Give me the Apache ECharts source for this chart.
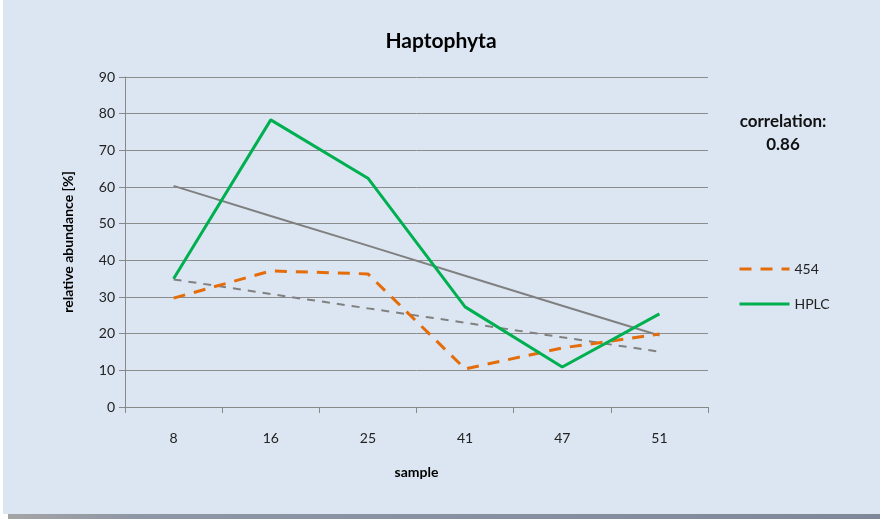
<!DOCTYPE html>
<html>
<head>
<meta charset="utf-8">
<script src="https://cdn.jsdelivr.net/npm/echarts@6/dist/echarts.min.js"></script>
<style>
  html, body { margin: 0; padding: 0; background: #ffffff; }
  #wrap { position: relative; width: 880px; height: 519px; background: #ffffff; }
  #shadow { position: absolute; left: 8px; top: 514px; width: 872px; height: 5px;
            background: linear-gradient(to right, #a4a4a4 0%, #8e97a6 15%, #7f8899 100%); }
  #chart { position: absolute; left: 3px; top: 0; width: 877px; height: 514px; background: #dce6f2; }
</style>
</head>
<body>
<div id="wrap"><div id="shadow"></div><div id="chart"></div></div>
<script>
// samples on the x axis
const samples = ['8', '16', '25', '41', '47', '51'];
// relative abundance [%]
const values454 = [29.7, 37.1, 36.3, 10.4, 16.1, 19.9];
const valuesHPLC = [35.0, 78.3, 62.4, 27.3, 10.9, 25.4];
// linear trend lines as drawn
const trend454 = [34.8, 30.8, 26.9, 23.0, 19.0, 15.1];
const trendHPLC = [60.3, 52.1, 44.0, 35.8, 27.6, 19.5];
const yTicks = [0, 10, 20, 30, 40, 50, 60, 70, 80, 90];

const FONT = 'Lato, "Open Sans", sans-serif';
const chart = echarts.init(document.getElementById('chart'));

chart.setOption({
  backgroundColor: '#dce6f2',
  textStyle: { fontFamily: FONT },
  animation: false,
  title: {
    text: 'Haptophyta',
    left: 433, top: 26, textAlign: 'center',
    textStyle: { fontSize: 21, fontWeight: 'bold', color: '#000', fontFamily: FONT }
  },
  grid: { left: 122, right: 172, top: 77, bottom: 107 },
  legend: {
    orient: 'vertical',
    left: 730, top: 257,
    itemWidth: 50, itemHeight: 10, itemGap: 21,
    data: ['454', 'HPLC'],
    itemStyle: { color: 'transparent', borderWidth: 0, opacity: 0 },
    lineStyle: { width: 3 },
    textStyle: { fontSize: 14, color: '#222', fontFamily: FONT }
  },
  xAxis: {
    type: 'category',
    data: samples,
    boundaryGap: true,
    name: 'sample',
    nameLocation: 'middle',
    nameGap: 58,
    nameTextStyle: { fontSize: 14, fontWeight: 'bold', color: '#000', fontFamily: FONT },
    axisLine: { lineStyle: { color: '#888', width: 1 } },
    axisTick: { show: true, length: 6, interval: 0, lineStyle: { color: '#888' } },
    axisLabel: { fontSize: 14, color: '#222', margin: 24, fontFamily: FONT },
    splitLine: { show: false }
  },
  yAxis: {
    type: 'value',
    min: yTicks[0], max: yTicks[yTicks.length - 1], interval: 10,
    name: 'relative abundance [%]',
    nameLocation: 'middle',
    nameGap: 50,
    nameTextStyle: { fontSize: 14, fontWeight: 'bold', color: '#000', fontFamily: FONT },
    axisLine: { show: true, lineStyle: { color: '#888', width: 1 } },
    axisTick: { show: true, length: 6, lineStyle: { color: '#888' } },
    axisLabel: { fontSize: 14, color: '#222', margin: 10, fontFamily: FONT },
    splitLine: { show: true, lineStyle: { color: '#8c8c8c', width: 1 } }
  },
  graphic: [
    { type: 'text', x: 780, y: 113,
      style: { text: 'correlation:', textAlign: 'center', fill: '#111', font: 'bold 17px ' + FONT } },
    { type: 'text', x: 780, y: 136,
      style: { text: '0.86', textAlign: 'center', fill: '#111', font: 'bold 17px ' + FONT } }
  ],
  series: [
    { name: 'trendHPLC', type: 'line', data: trendHPLC, symbol: 'none', silent: true,
      lineStyle: { color: '#808080', width: 2 }, z: 1 },
    { name: 'trend454', type: 'line', data: trend454, symbol: 'none', silent: true,
      lineStyle: { color: '#808080', width: 2, type: [8, 7] }, z: 1 },
    { name: '454', type: 'line', data: values454, symbol: 'none',
      itemStyle: { color: '#e46c0a' },
      lineStyle: { color: '#e46c0a', width: 3, type: [12, 9] }, z: 3 },
    { name: 'HPLC', type: 'line', data: valuesHPLC, symbol: 'none',
      itemStyle: { color: '#00b050' },
      lineStyle: { color: '#00b050', width: 3 }, z: 4 }
  ]
});
</script>
</body>
</html>
